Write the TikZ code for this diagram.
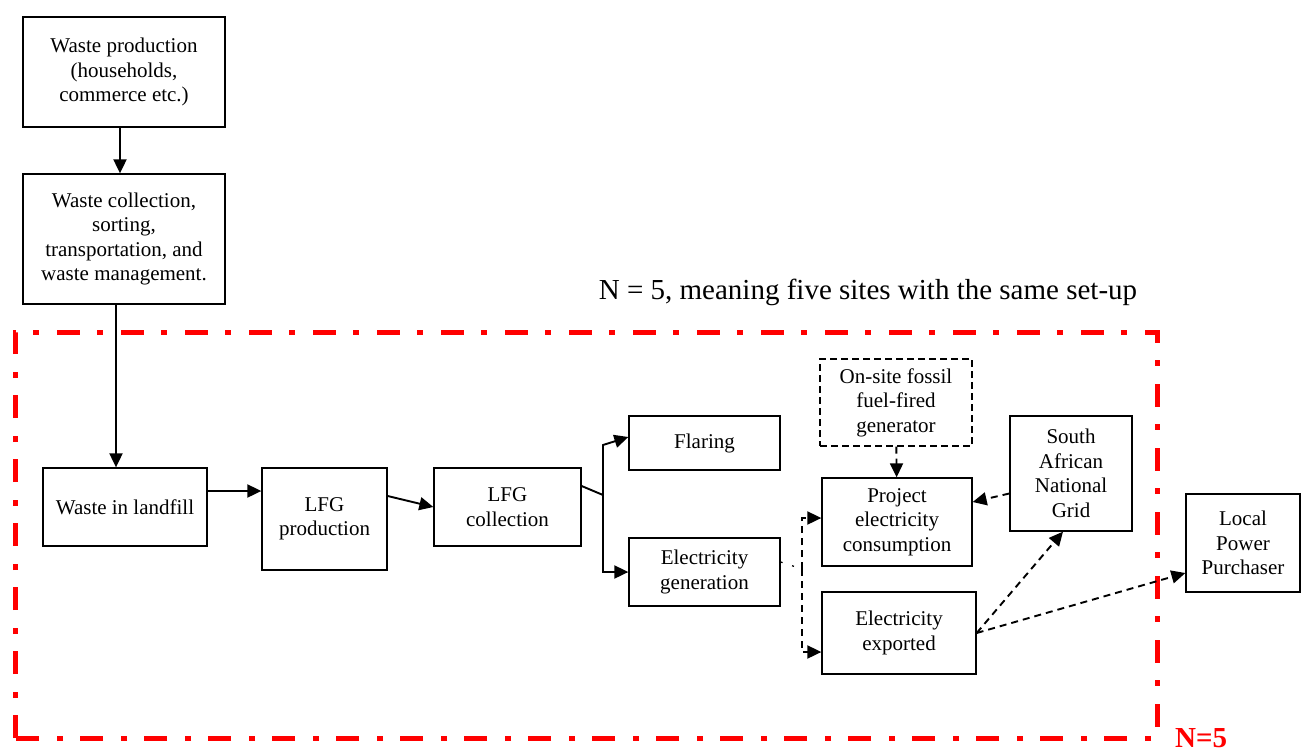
\documentclass[tikz,border=0pt]{standalone}
\usepackage{fontspec}
\setmainfont{Liberation Serif}
\usepackage{xcolor}
\usepackage{tikz}
\usetikzlibrary{positioning,calc,arrows.meta}

\begin{document}
\begin{tikzpicture}[
						x=1pt, y=-1pt,
						% Hop thuong
						box/.style={
							rectangle, draw=black, line width=1.3pt,
							inner sep=0pt, align=center,
							font=\fontsize{21}{24.5}\selectfont
						},
						% Hop net dut
						dbox/.style={
							box, dashed, dash pattern=on 7pt off 4pt
						},
						% Mui ten lien
						arr/.style={
							-{Triangle[length=14pt,width=13pt]}, line width=1.9pt
						},
						% Mui ten net dut
						darr/.style={
							-{Triangle[length=14pt,width=13pt]}, line width=1.9pt,
							dash pattern=on 7pt off 5pt
						},
						% Khung do N=5
						siteframe/.style={
							draw=red, line width=5pt,
							dash pattern=on 23pt off 17pt on 6pt off 18pt
						}
						]
						
						\useasboundingbox (0,0) rectangle (1301,753);
						
						% --- Khung do: N=5 ---
						\draw[siteframe] (15,738) -- (15,332) -- (1157,332) -- (1157,738) -- cycle;
						\node[font=\fontsize{29}{34}\selectfont] (title) at (868,292)
							{N = 5, meaning five sites with the same set-up};
						\node[font=\fontsize{29}{33}\selectfont\bfseries, text=red, anchor=base west, inner sep=0pt]
							(nfive) at (1175,747) {N=5};
						
						% --- Cot trai ---
						\node[box, minimum width=202pt, minimum height=110pt] (wprod) at (124,72)
							{Waste production\\(households,\\commerce etc.)};
						\node[box, minimum width=202pt, minimum height=130pt] (wcoll) at (124,239)
							{Waste collection,\\sorting,\\transportation, and\\waste management.};
						\node[box, minimum width=164pt, minimum height=78pt] (landfill) at (125,507)
							{Waste in landfill};
						
						\draw[arr] ([xshift=-4pt]wprod.south) -- ([xshift=-4pt]wprod.south |- wcoll.north);
						\draw[arr] ([xshift=-8pt]wcoll.south) -- ([xshift=-8pt]wcoll.south |- landfill.north);
						
						% --- Hang LFG ---
						\node[box, minimum width=125pt, minimum height=102pt] (lfgprod) at (324.5,519)
							{LFG\\production};
						\node[box, minimum width=147pt, minimum height=78pt] (lfgcoll) at (507.5,507)
							{LFG\\collection};
						\node[box, minimum width=151pt, minimum height=54pt] (flaring) at (704.5,443)
							{Flaring};
						\node[box, minimum width=151pt, minimum height=68pt] (elecgen) at (704.5,572)
							{Electricity\\generation};
						
						\draw[arr] ([yshift=16pt]landfill.east) -- ([yshift=16pt]landfill.east -| lfgprod.west);
						\draw[arr] ([yshift=23pt]lfgprod.east) -- (lfgcoll.west);
						
						% nhanh: Flaring / Electricity generation
						\coordinate (split) at (603,495);
						\coordinate (splitup) at (603,445);
						\draw[line width=1.9pt] ([yshift=21pt]lfgcoll.east) -- (split);
						\draw[arr] (split) -- (splitup) -- ([yshift=6pt]flaring.west);
						\draw[arr] (split) |- (elecgen.west);
						
						% --- Dien ---
						\node[dbox, minimum width=152pt, minimum height=87pt] (onsite) at (896,402.5)
							{On-site fossil\\fuel-fired\\generator};
						\node[box, minimum width=150pt, minimum height=88pt] (project) at (897,522)
							{Project\\electricity\\consumption};
						\node[box, minimum width=154pt, minimum height=82pt] (exported) at (899,633)
							{Electricity\\exported};
						\node[box, minimum width=122pt, minimum height=115pt] (grid) at (1071,473.5)
							{South\\African\\National\\Grid};
						\node[box, minimum width=114pt, minimum height=98pt] (local) at (1243,543)
							{Local\\Power\\Purchaser};
						
						\coordinate (genmid) at (802,569);
						\draw[line width=1.3pt, dash pattern=on 2pt off 10pt] ([yshift=10pt]elecgen.east) -- (genmid);
						\draw[darr] (genmid) |- ([yshift=4pt]project.west);
						\draw[darr] (genmid) |- ([yshift=-19pt]exported.west);
						
						\draw[darr] (onsite) -- (project);
						\draw[darr] ([yshift=-20pt]grid.west) -- ([yshift=20pt]project.east);
						\draw[darr] (exported.east) -- ([xshift=-8pt]grid.south);
						\draw[darr] (exported.east) -- ([yshift=-30pt]local.west);
						
					\end{tikzpicture}
\end{document}
